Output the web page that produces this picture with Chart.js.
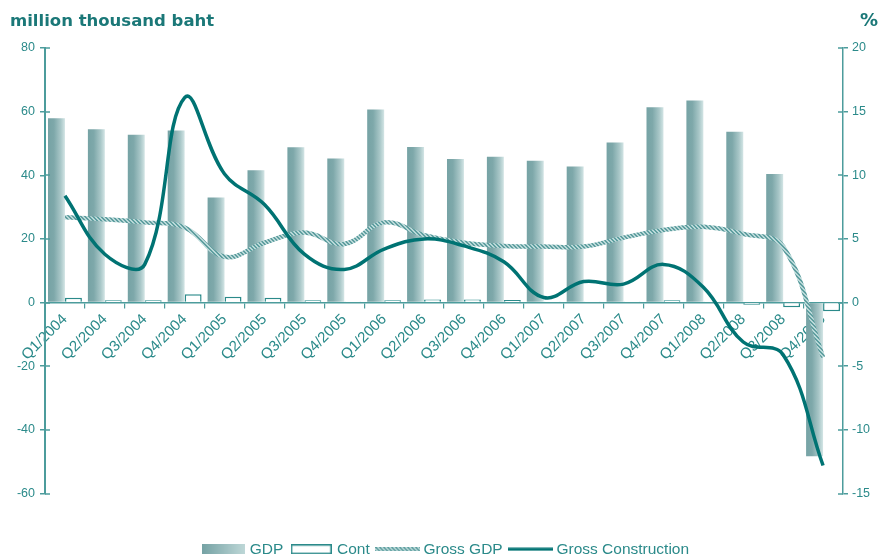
<!DOCTYPE html>
<html>
<head>
<meta charset="utf-8">
<script src="https://cdn.jsdelivr.net/npm/chart.js@4.4.1/dist/chart.umd.min.js"></script>
<style>
  html, body { margin: 0; padding: 0; background: #fff; }
  #wrap { width: 879px; height: 560px; position: relative; }
</style>
</head>
<body>
<div id="wrap"><canvas id="gdpChart"></canvas></div>
<script>
var quarters = ["Q1/2004", "Q2/2004", "Q3/2004", "Q4/2004",
                "Q1/2005", "Q2/2005", "Q3/2005", "Q4/2005",
                "Q1/2006", "Q2/2006", "Q3/2006", "Q4/2006",
                "Q1/2007", "Q2/2007", "Q3/2007", "Q4/2007",
                "Q1/2008", "Q2/2008", "Q3/2008", "Q4/2008"];

// million thousand baht
var gdp  = [57.9, 54.5, 52.7, 54.1, 33.0, 41.6, 48.8, 45.3, 60.7, 48.9,
            45.1, 45.8, 44.6, 42.8, 50.3, 61.4, 63.5, 53.7, 40.4, -48.3];
var cont = [1.5, 0.7, 0.7, 2.6, 1.8, 1.5, 0.7, 0.2, 0.7, 1.0,
            1.0, 0.8, 0.2, 0.2, 0.2, 0.7, 0.2, -0.7, -1.5, -2.7];

// growth, %
var grossGdp = [6.7, 6.55, 6.3, 5.9, 3.6, 4.7, 5.5, 4.6, 6.3, 5.3,
                4.7, 4.45, 4.4, 4.4, 5.1, 5.7, 5.95, 5.4, 4.4, -4.3];
var grossConstruction = [8.4, 3.8, 3.0, 16.1, 10.1, 7.7, 3.8, 2.6, 4.2, 5.0,
                         4.45, 3.2, 0.4, 1.65, 1.45, 3.0, 1.2, -3.1, -4.1, -12.8];

var leftTicks  = [-60, -40, -20, 0, 20, 40, 60, 80];
var rightTicks = [-15, -10, -5, 0, 5, 10, 15, 20];

var teal = '#2b8a8a';
var axisColor = '#4c9c9c';
var darkTeal = '#007373';
var sans = '"Liberation Sans", Arial, sans-serif';

var ctx = document.getElementById('gdpChart').getContext('2d');

// light/dark twisted texture for the Gross GDP line
function ropePattern() {
  var c = document.createElement('canvas');
  c.width = 4; c.height = 4;
  var g = c.getContext('2d');
  g.fillStyle = '#b9d8d8';
  g.fillRect(0, 0, 4, 4);
  g.fillStyle = '#5f9fa0';
  for (var i = 0; i < 4; i++) {
    g.fillRect(i, i, 1, 1);
    g.fillRect((i + 1) % 4, i, 1, 1);
  }
  return ctx.createPattern(c, 'repeat');
}
var rope = ropePattern();

// GDP columns (left bar of each pair) shade from dark on the left to pale on the right
function barGradient(c) {
  var chart = c.chart, xs = chart.scales.x;
  if (c.type !== 'data' || !xs || !chart.chartArea) return '#8fb6b7';
  var cx = xs.getPixelForValue(c.dataIndex);
  var catW = (xs.right - xs.left) / quarters.length;
  var left = cx - catW * 0.85 / 2;
  var g = chart.ctx.createLinearGradient(left, 0, cx, 0);
  g.addColorStop(0, '#76a3a5');
  g.addColorStop(0.35, '#7ea8aa');
  g.addColorStop(0.75, '#a9c7c8');
  g.addColorStop(1, '#d3e5e5');
  return g;
}

function swatch(w, h, paint) {
  var c = document.createElement('canvas');
  c.width = w; c.height = h;
  paint(c.getContext('2d'), w, h);
  return c;
}
var legendSwatches = [
  swatch(43, 10, function (g, w, h) {
    var gr = g.createLinearGradient(0, 0, w, 0);
    gr.addColorStop(0, '#76a3a5');
    gr.addColorStop(1, '#bfd8d8');
    g.fillStyle = gr;
    g.fillRect(0, 0, w, h);
  }),
  swatch(41, 10, function (g, w, h) {
    g.fillStyle = '#fff';
    g.fillRect(0, 0, w, h);
    g.strokeStyle = teal;
    g.lineWidth = 1.5;
    g.strokeRect(0.75, 0.75, w - 1.5, h - 1.5);
  }),
  swatch(45, 4, function (g, w, h) {
    g.fillStyle = rope;
    g.fillRect(0, 0, w, h);
  }),
  swatch(45, 4, function (g, w, h) {
    g.fillStyle = darkTeal;
    g.fillRect(0, 0.5, w, 3);
  })
];

// headings above both axes, plus the inner half of each y tick mark
var axisDecor = {
  id: 'axisDecor',
  afterDraw: function (chart) {
    var c = chart.ctx;
    c.save();
    c.fillStyle = '#1b7878';
    c.font = 'bold 16.5px "DejaVu Sans"';
    c.textBaseline = 'alphabetic';
    c.textAlign = 'left';
    c.fillText('million thousand baht', 10, 26);
    c.font = 'bold 18px "DejaVu Sans"';
    c.textAlign = 'right';
    c.fillText('%', 878, 26);

    c.strokeStyle = axisColor;
    c.lineWidth = 1.5;
    ['y', 'y1'].forEach(function (id) {
      var s = chart.scales[id];
      var x0 = id === 'y' ? s.right : s.left;
      var dir = id === 'y' ? 1 : -1;
      s.ticks.forEach(function (t) {
        var py = Math.round(s.getPixelForValue(t.value));
        c.beginPath();
        c.moveTo(x0, py);
        c.lineTo(x0 + dir * 5, py);
        c.stroke();
      });
    });
    c.restore();
  }
};

var chart = new Chart(ctx, {
  type: 'bar',
  data: {
    labels: quarters,
    datasets: [{
      label: 'GDP',
      data: gdp,
      xAxisID: 'x',
      yAxisID: 'y',
      backgroundColor: barGradient,
      borderWidth: 0,
      order: 2
    }, {
      label: 'Cont',
      data: cont,
      xAxisID: 'x',
      yAxisID: 'y',
      backgroundColor: '#ffffff',
      borderColor: teal,
      borderWidth: 1.5,
      order: 3
    }, {
      type: 'line',
      label: 'Gross GDP',
      data: grossGdp,
      xAxisID: 'x',
      yAxisID: 'y1',
      borderColor: rope,
      borderWidth: 4.5,
      tension: 0.4,
      pointRadius: 0,
      fill: false,
      order: 1
    }, {
      type: 'line',
      label: 'Gross Construction',
      data: grossConstruction,
      xAxisID: 'x',
      yAxisID: 'y1',
      borderColor: darkTeal,
      borderWidth: 3.5,
      tension: 0.4,
      pointRadius: 0,
      fill: false,
      order: 0
    }]
  },
  options: {
    responsive: true,
    maintainAspectRatio: false,
    animation: false,
    // left padding nudges the legend row right; the left axis is narrowed by the same amount
    layout: { padding: { top: 48, left: 16, right: 0, bottom: -7 } },
    datasets: {
      bar: { categoryPercentage: 0.85, barPercentage: 1 }
    },
    plugins: {
      tooltip: { enabled: false },
      legend: {
        position: 'bottom',
        labels: {
          usePointStyle: true,
          pointStyleWidth: 36,
          boxHeight: 10,
          padding: 10,
          color: teal,
          font: { family: sans, size: 15.5 },
          generateLabels: function (ch) {
            return ch.data.datasets.map(function (ds, i) {
              return {
                text: ds.label,
                pointStyle: legendSwatches[i],
                fontColor: teal,
                fillStyle: 'transparent',
                strokeStyle: 'transparent',
                lineWidth: 0,
                hidden: false,
                datasetIndex: i
              };
            });
          }
        }
      }
    },
    scales: {
      x: {
        type: 'category',
        position: { y: 0 },
        offset: true,
        grid: { display: true, drawOnChartArea: false, offset: true, tickLength: 5, color: axisColor, lineWidth: 1.2 },
        border: { display: true, color: axisColor, width: 1.5 },
        ticks: {
          color: teal,
          font: { family: sans, size: 15 },
          minRotation: 45,
          maxRotation: 45,
          autoSkip: false,
          padding: 3
        }
      },
      xSpace: {
        type: 'category',
        axis: 'x',
        position: 'bottom',
        display: true,
        grid: { display: false },
        border: { display: false },
        ticks: { display: false },
        afterFit: function (s) { s.height = 38; }
      },
      y: {
        position: 'left',
        min: -60,
        max: 80,
        afterBuildTicks: function (s) { s.ticks = leftTicks.map(function (v) { return { value: v }; }); },
        afterFit: function (s) { s.width = 29; },
        grid: { display: true, drawOnChartArea: false, tickLength: 5, color: axisColor, lineWidth: 1.5 },
        border: { display: true, color: axisColor, width: 2 },
        ticks: { color: teal, font: { family: sans, size: 12.5 }, padding: 5 }
      },
      y1: {
        position: 'right',
        min: -15,
        max: 20,
        afterBuildTicks: function (s) { s.ticks = rightTicks.map(function (v) { return { value: v }; }); },
        afterFit: function (s) { s.width = 36; },
        grid: { display: true, drawOnChartArea: false, tickLength: 5, color: axisColor, lineWidth: 1.5 },
        border: { display: true, color: axisColor, width: 1.5 },
        ticks: { color: teal, font: { family: sans, size: 12.5 }, padding: 4 }
      }
    }
  },
  plugins: [axisDecor]
});
</script>
</body>
</html>
